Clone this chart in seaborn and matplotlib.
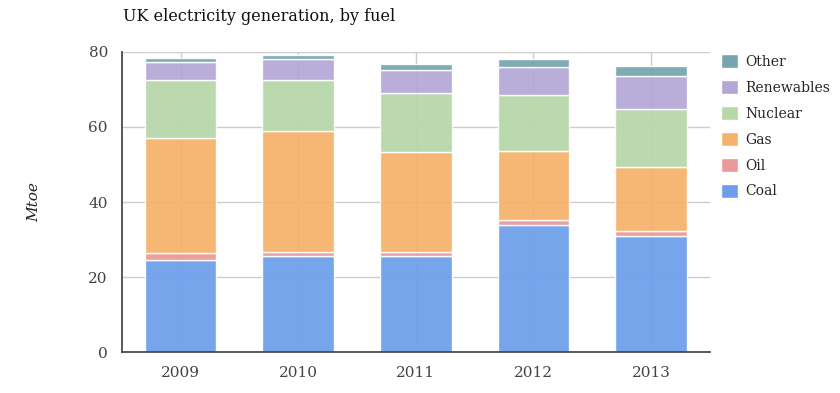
import numpy as np
import pandas as pd
import matplotlib
matplotlib.use("Agg")
import matplotlib.pyplot as plt
import seaborn as sns
from matplotlib.patches import Patch

# Data (Mtoe)
years = ["2009", "2010", "2011", "2012", "2013"]
coal = [24.5, 25.5, 25.7, 34.0, 31.0]
oil = [1.8, 1.2, 1.1, 1.1, 1.2]
gas = [30.7, 32.3, 26.5, 18.6, 17.0]
nuclear = [15.4, 13.6, 15.7, 14.8, 15.7]
renewables = [4.9, 5.6, 6.2, 7.4, 8.7]
other = [1.2, 0.9, 1.6, 2.2, 2.6]

fuels = ["Coal", "Oil", "Gas", "Nuclear", "Renewables", "Other"]
colors = ["#6d9eeb", "#ea9999", "#f6b26b", "#b6d7a8", "#b4a7d6", "#76a5af"]

df = pd.DataFrame({"year": years, "Coal": coal, "Oil": oil, "Gas": gas,
                   "Nuclear": nuclear, "Renewables": renewables, "Other": other})

sns.set_theme(style="white")
plt.rcParams["font.family"] = ["DejaVu Serif"]

fig = plt.figure(figsize=(8.4, 3.93), dpi=100)
ax = fig.add_axes([0.145, 0.104, 0.700, 0.764])

# Grid first
for v in [20, 40, 60, 80]:
    ax.axhline(v, color="#cccccc", lw=1, zorder=0)
for i in range(len(years)):
    ax.axvline(i, color="#cccccc", lw=1, zorder=0)

bottom = np.zeros(len(years))
for fuel, col in zip(fuels, colors):
    sns.barplot(data=df, x="year", y=fuel, order=years, color=col, width=0.61,
                bottom=bottom, edgecolor="white", linewidth=1, alpha=0.93,
                saturation=1, ax=ax, zorder=2)
    bottom = bottom + df[fuel].to_numpy()

ax.set_xlim(-0.5, 4.5)
ax.set_ylim(0, 80)
ax.set_yticks([0, 20, 40, 60, 80])
ax.tick_params(axis="both", length=0, labelsize=11, colors="#444444", pad=10)
ax.set_xlabel("")
ax.set_ylabel("Mtoe", fontsize=11, style="italic", labelpad=34, color="#222222")

for s in ["top", "right"]:
    ax.spines[s].set_visible(False)
ax.spines["left"].set_color("#444444")
ax.spines["bottom"].set_color("#444444")

fig.text(0.146, 0.958, "UK electricity generation, by fuel", fontsize=11.5,
         ha="left", va="center", color="#111111")

handles = [Patch(facecolor=c, edgecolor="white", label=f)
           for f, c in zip(fuels, colors)][::-1]
ax.legend(handles=handles, loc="upper left", bbox_to_anchor=(1.003, 1.025),
          frameon=False, fontsize=10, handlelength=1.2, handleheight=1.2,
          handletextpad=0.5, labelspacing=0.8, borderaxespad=0.3)

fig.savefig("out.png", dpi=100)
